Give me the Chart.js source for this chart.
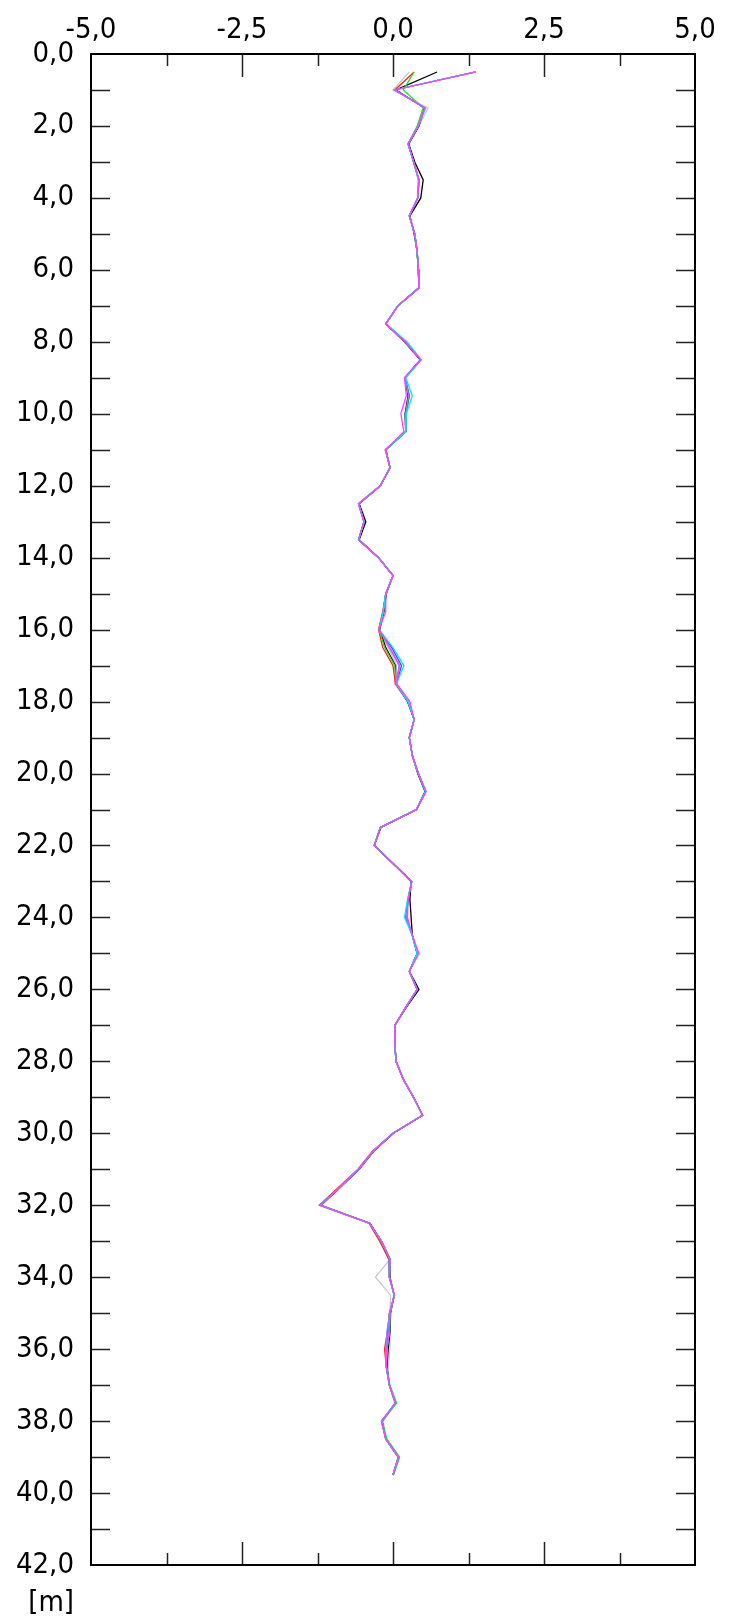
<!DOCTYPE html>
<html>
<head>
<meta charset="utf-8">
<script src="https://cdn.jsdelivr.net/npm/chart.js@4/dist/chart.umd.min.js"></script>
<style>
  html, body { margin: 0; padding: 0; background: #fff; }
</style>
</head>
<body>
<canvas id="profile-chart" width="736" height="1619"></canvas>
<script>
// depth [m], one value every 0.5 m
var depths = [0.5, 1.0, 1.5, 2.0, 2.5, 3.0, 3.5, 4.0, 4.5, 5.0,
  5.5, 6.0, 6.5, 7.0, 7.5, 8.0, 8.5, 9.0, 9.5, 10.0,
  10.5, 11.0, 11.5, 12.0, 12.5, 13.0, 13.5, 14.0, 14.5, 15.0,
  15.5, 16.0, 16.5, 17.0, 17.5, 18.0, 18.5, 19.0, 19.5, 20.0,
  20.5, 21.0, 21.5, 22.0, 22.5, 23.0, 23.5, 24.0, 24.5, 25.0,
  25.5, 26.0, 26.5, 27.0, 27.5, 28.0, 28.5, 29.0, 29.5, 30.0,
  30.5, 31.0, 31.5, 32.0, 32.5, 33.0, 33.5, 34.0, 34.5, 35.0,
  35.5, 36.0, 36.5, 37.0, 37.5, 38.0, 38.5, 39.0, 39.5];

// displacement readings, one list per reading
var readBlack = [0.73, 0.05, 0.52, 0.43, 0.26, 0.36, 0.50, 0.46, 0.28, 0.35,
  0.40, 0.42, 0.43, 0.08, -0.12, 0.19, 0.45, 0.20, 0.25, 0.20,
  0.21, -0.12, -0.05, -0.21, -0.56, -0.45, -0.56, -0.24, 0.00, -0.11,
  -0.15, -0.22, -0.12, 0.04, 0.05, 0.24, 0.35, 0.27, 0.32, 0.41,
  0.53, 0.39, -0.20, -0.31, 0.00, 0.30, 0.28, 0.30, 0.32, 0.40,
  0.27, 0.43, 0.22, 0.03, 0.03, 0.05, 0.17, 0.34, 0.49, 0.01,
  -0.32, -0.56, -0.87, -1.19, -0.38, -0.19, -0.05, -0.05, 0.02, -0.04,
  -0.05, -0.08, -0.10, -0.06, 0.04, -0.18, -0.12, 0.09, 0.00];

var readRed = [0.35, 0.03, 0.53, 0.42, 0.25, 0.34, 0.43, 0.41, 0.27, 0.36,
  0.40, 0.42, 0.43, 0.08, -0.12, 0.20, 0.46, 0.20, 0.26, 0.21,
  0.21, -0.13, -0.05, -0.21, -0.57, -0.48, -0.57, -0.24, 0.00, -0.12,
  -0.17, -0.24, -0.17, 0.00, 0.04, 0.25, 0.35, 0.27, 0.32, 0.42,
  0.54, 0.39, -0.21, -0.31, 0.00, 0.31, 0.25, 0.22, 0.32, 0.40,
  0.27, 0.40, 0.21, 0.03, 0.03, 0.05, 0.17, 0.34, 0.49, 0.00,
  -0.34, -0.58, -0.90, -1.22, -0.40, -0.22, -0.07, -0.06, 0.02, -0.06,
  -0.09, -0.14, -0.11, -0.06, 0.04, -0.19, -0.12, 0.09, 0.00];

var readGreen = [0.35, 0.17, 0.50, 0.40, 0.25, 0.34, 0.42, 0.41, 0.27, 0.36,
  0.40, 0.42, 0.43, 0.08, -0.12, 0.21, 0.46, 0.20, 0.27, 0.22,
  0.21, -0.12, -0.05, -0.21, -0.57, -0.48, -0.57, -0.24, 0.00, -0.12,
  -0.16, -0.23, -0.14, 0.03, 0.05, 0.25, 0.35, 0.27, 0.32, 0.42,
  0.54, 0.39, -0.21, -0.31, 0.00, 0.31, 0.25, 0.22, 0.32, 0.40,
  0.27, 0.40, 0.21, 0.03, 0.03, 0.05, 0.17, 0.34, 0.49, 0.00,
  -0.33, -0.57, -0.88, -1.20, -0.39, -0.19, -0.05, -0.06, 0.02, -0.05,
  -0.06, -0.10, -0.11, -0.05, 0.06, -0.18, -0.10, 0.11, 0.01];

var readBlue = [1.37, 0.03, 0.53, 0.42, 0.25, 0.34, 0.43, 0.41, 0.27, 0.36,
  0.40, 0.42, 0.43, 0.08, -0.12, 0.21, 0.46, 0.20, 0.27, 0.21,
  0.21, -0.12, -0.05, -0.21, -0.57, -0.48, -0.57, -0.24, 0.00, -0.12,
  -0.16, -0.23, -0.02, 0.14, 0.06, 0.25, 0.35, 0.27, 0.32, 0.42,
  0.54, 0.39, -0.21, -0.31, 0.00, 0.31, 0.25, 0.21, 0.32, 0.40,
  0.27, 0.40, 0.21, 0.03, 0.03, 0.05, 0.17, 0.34, 0.49, 0.00,
  -0.33, -0.57, -0.88, -1.20, -0.39, -0.19, -0.05, -0.06, 0.02, -0.05,
  -0.07, -0.11, -0.11, -0.06, 0.04, -0.19, -0.12, 0.09, 0.00];

var readCyan = [1.37, 0.02, 0.54, 0.42, 0.25, 0.34, 0.42, 0.41, 0.27, 0.36,
  0.40, 0.42, 0.43, 0.08, -0.12, 0.23, 0.47, 0.21, 0.32, 0.22,
  0.21, -0.12, -0.05, -0.21, -0.57, -0.48, -0.57, -0.24, 0.00, -0.12,
  -0.16, -0.23, 0.00, 0.18, 0.06, 0.25, 0.35, 0.27, 0.32, 0.42,
  0.54, 0.39, -0.21, -0.31, 0.00, 0.31, 0.24, 0.19, 0.32, 0.40,
  0.27, 0.40, 0.21, 0.03, 0.03, 0.05, 0.17, 0.34, 0.49, 0.00,
  -0.33, -0.57, -0.88, -1.20, -0.39, -0.19, -0.05, -0.06, 0.02, -0.05,
  -0.06, -0.10, -0.11, -0.06, 0.04, -0.19, -0.12, 0.09, 0.00];

var readMagenta = [1.37, 0.03, 0.53, 0.42, 0.25, 0.34, 0.43, 0.41, 0.27, 0.36,
  0.40, 0.42, 0.43, 0.08, -0.12, 0.20, 0.46, 0.19, 0.22, 0.13,
  0.18, -0.12, -0.05, -0.21, -0.57, -0.48, -0.57, -0.24, 0.00, -0.12,
  -0.12, -0.23, -0.05, 0.11, 0.06, 0.28, 0.35, 0.27, 0.32, 0.42,
  0.55, 0.39, -0.21, -0.31, 0.00, 0.31, 0.25, 0.24, 0.32, 0.43,
  0.27, 0.40, 0.21, 0.03, 0.03, 0.05, 0.17, 0.34, 0.49, 0.00,
  -0.33, -0.57, -0.88, -1.20, -0.39, -0.19, -0.05, -0.06, 0.02, -0.05,
  -0.06, -0.10, -0.11, -0.06, 0.04, -0.19, -0.12, 0.09, 0.00];

var readSilver = [0.27, 0.00, 0.58, 0.43, 0.26, 0.34, 0.43, 0.41, 0.27, 0.36,
  0.40, 0.42, 0.43, 0.08, -0.12, 0.20, 0.46, 0.20, 0.26, 0.21,
  0.21, -0.12, -0.05, -0.21, -0.57, -0.48, -0.57, -0.24, 0.00, -0.12,
  -0.16, -0.23, -0.08, 0.06, 0.02, 0.25, 0.35, 0.27, 0.32, 0.42,
  0.54, 0.39, -0.21, -0.31, 0.00, 0.31, 0.25, 0.22, 0.32, 0.40,
  0.27, 0.40, 0.21, 0.03, 0.03, 0.05, 0.17, 0.34, 0.49, 0.00,
  -0.33, -0.57, -0.88, -1.20, -0.39, -0.19, -0.05, -0.29, -0.04, -0.05,
  -0.05, -0.05, -0.08, -0.06, 0.03, -0.16, -0.12, 0.08, 0.00];

var readPurple = [1.37, 0.03, 0.53, 0.42, 0.25, 0.34, 0.43, 0.41, 0.27, 0.36,
  0.40, 0.42, 0.43, 0.08, -0.12, 0.20, 0.46, 0.20, 0.26, 0.21,
  0.21, -0.12, -0.05, -0.21, -0.57, -0.48, -0.57, -0.24, 0.00, -0.12,
  -0.16, -0.23, -0.06, 0.10, 0.05, 0.25, 0.35, 0.27, 0.32, 0.42,
  0.54, 0.39, -0.21, -0.31, 0.00, 0.31, 0.25, 0.22, 0.32, 0.40,
  0.27, 0.40, 0.21, 0.03, 0.03, 0.05, 0.17, 0.34, 0.49, 0.00,
  -0.33, -0.57, -0.88, -1.20, -0.39, -0.19, -0.05, -0.06, 0.02, -0.05,
  -0.10, -0.12, -0.11, -0.06, 0.04, -0.19, -0.12, 0.09, 0.00];

// axis ticks
var xLabelTicks = [-5, -2.5, 0, 2.5, 5];
var xMarkTicks = [-3.75, -2.5, -1.25, 0, 1.25, 2.5, 3.75];
var yMarkTicks = [1, 2, 3, 4, 5, 6, 7, 8, 9, 10, 11, 12, 13, 14, 15, 16, 17, 18, 19, 20,
  21, 22, 23, 24, 25, 26, 27, 28, 29, 30, 31, 32, 33, 34, 35, 36, 37, 38, 39, 40, 41];
var depthUnit = '[m]';
var labelFont = '"DejaVu Sans Condensed", "DejaVu Sans", sans-serif';

function toPoints(values) {
  var pts = [];
  for (var i = 0; i < values.length; i++) {
    pts.push({ x: values[i], y: depths[i] });
  }
  return pts;
}

function series(values, color) {
  return {
    data: toPoints(values),
    showLine: true,
    borderColor: color,
    borderWidth: 1.3,
    pointRadius: 0,
    fill: false,
    tension: 0
  };
}

function fmt(v) {
  return v.toFixed(1).replace('.', ',');
}

var frame = {
  id: 'frame',
  afterDraw: function(chart) {
    var ctx = chart.ctx;
    var a = chart.chartArea;
    var xs = chart.scales.x;
    var ys = chart.scales.y;
    ctx.save();
    ctx.strokeStyle = '#222';
    ctx.lineWidth = 1.5;
    ctx.beginPath();
    xMarkTicks.forEach(function(v) {
      var px = Math.round(xs.getPixelForValue(v)) + 0.5;
      var len = (v % 2.5 === 0) ? 23 : 12;
      ctx.moveTo(px, a.top);
      ctx.lineTo(px, a.top + len);
      ctx.moveTo(px, a.bottom);
      ctx.lineTo(px, a.bottom - len);
    });
    yMarkTicks.forEach(function(v) {
      var py = Math.round(ys.getPixelForValue(v)) + 0.5;
      ctx.moveTo(a.left, py);
      ctx.lineTo(a.left + 19, py);
      ctx.moveTo(a.right, py);
      ctx.lineTo(a.right - 19, py);
    });
    ctx.stroke();
    ctx.lineWidth = 2;
    ctx.strokeStyle = '#000';
    ctx.strokeRect(a.left, a.top, a.right - a.left, a.bottom - a.top);
    ctx.fillStyle = '#000';
    ctx.font = '29px ' + labelFont;
    ctx.textAlign = 'right';
    ctx.textBaseline = 'middle';
    ctx.fillText(depthUnit, a.left - 17, a.bottom + 38);
    ctx.restore();
  }
};

var ctx = document.getElementById('profile-chart').getContext('2d');
var myChart = new Chart(ctx, {
  type: 'scatter',
  data: {
    datasets: [
      series(readMagenta, '#ff40ff'),
      series(readCyan, '#00e5ff'),
      series(readPurple, '#9a7cf0'),
      series(readBlue, '#3050ff'),
      series(readGreen, '#20e020'),
      series(readRed, '#ff2020'),
      series(readBlack, '#000000'),
      series(readSilver, '#c8c8c8')
    ]
  },
  options: {
    responsive: false,
    animation: false,
    devicePixelRatio: 1,
    layout: { padding: { left: 0, right: 41, top: 0, bottom: 54 } },
    plugins: { legend: { display: false }, tooltip: { enabled: false } },
    scales: {
      x: {
        type: 'linear',
        position: 'top',
        min: -5,
        max: 5,
        afterBuildTicks: function(scale) {
          scale.ticks = xLabelTicks.map(function(v) { return { value: v }; });
        },
        afterFit: function(scale) { scale.height = 54; },
        grid: { display: false, drawTicks: false },
        border: { display: false },
        ticks: {
          padding: 6,
          maxRotation: 0,
          color: '#000',
          font: { family: labelFont, size: 29 },
          callback: function(v) { return fmt(v); }
        }
      },
      y: {
        type: 'linear',
        reverse: true,
        min: 0,
        max: 42,
        afterFit: function(scale) { scale.width = 91; },
        grid: { display: false, drawTicks: false },
        border: { display: false },
        ticks: {
          stepSize: 2,
          padding: 17,
          color: '#000',
          font: { family: labelFont, size: 29 },
          callback: function(v) { return fmt(v); }
        }
      }
    }
  },
  plugins: [frame]
});
</script>
</body>
</html>
